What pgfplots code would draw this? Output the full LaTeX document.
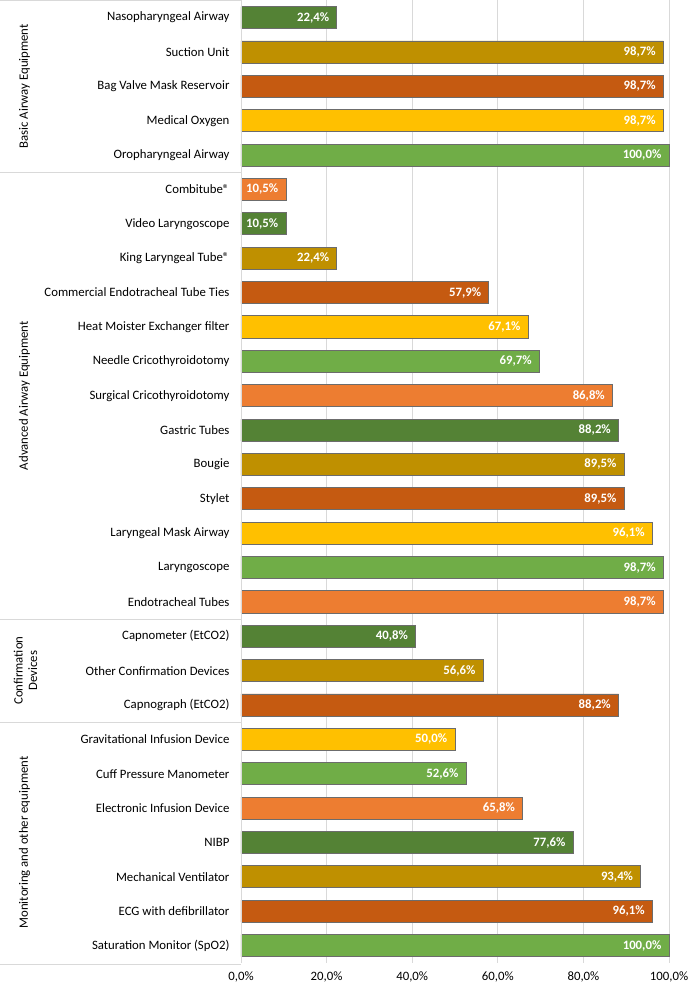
\documentclass[border=0pt]{standalone}
\usepackage{fontspec}
\setmainfont{Carlito}
\usepackage{pgfplots}
\pgfplotsset{compat=1.18}
\definecolor{cdg}{HTML}{548235}
\definecolor{cgo}{HTML}{BF9000}
\definecolor{cru}{HTML}{C55A11}
\definecolor{cye}{HTML}{FFC000}
\definecolor{cgr}{HTML}{70AD47}
\definecolor{cor}{HTML}{ED7D31}
\definecolor{gridc}{HTML}{D9D9D9}
\begin{document}
\begin{tikzpicture}[font=\fontsize{12.75bp}{14.5bp}\selectfont]
\begin{axis}[
  scale only axis, width=427bp, height=960bp,
  xbar, bar width=22bp,
  every axis plot/.append style={bar shift=0pt, draw=gray!85!black, line width=0.8bp},
  xmin=0, xmax=100, ymin=-0.5, ymax=27.5, y dir=reverse,
  enlargelimits=false,
  /pgf/number format/assume math mode=true,
  xtick={0,20,40,60,80,100},
  xticklabel={\pgfmathprintnumber[fixed,fixed zerofill,precision=1,use comma]{\tick}\%},
  xticklabel style={yshift=-5bp},
  xmajorgrids, grid style={draw=gridc, line width=0.8bp},
  major tick length=0pt,
  axis line style={draw=none},
  ytick={0,...,27},
  yticklabels={Nasopharyngeal Airway, Suction Unit, Bag Valve Mask Reservoir, Medical Oxygen, Oropharyngeal Airway,
    Combitube®, Video Laryngoscope, King Laryngeal Tube®, Commercial Endotracheal Tube Ties,
    Heat Moister Exchanger filter, Needle Cricothyroidotomy, Surgical Cricothyroidotomy, Gastric Tubes\ , Bougie, Stylet,
    Laryngeal Mask Airway, Laryngoscope, Endotracheal Tubes, Capnometer (EtCO2), Other Confirmation Devices\ , Capnograph (EtCO2),
    Gravitational Infusion Device, Cuff Pressure Manometer, Electronic Infusion Device, NIBP, Mechanical Ventilator,
    ECG with defibrillator, Saturation Monitor (SpO2)},
  yticklabel style={xshift=-8bp},
  nodes near coords={\pgfmathprintnumber[fixed,fixed zerofill,precision=1,use comma]{\pgfplotspointmeta}\%},
  point meta=explicit,
  every node near coord/.append style={anchor=east, xshift=-4bp, text=white, font=\fontsize{12.75bp}{14.5bp}\selectfont\bfseries},
  clip=false,
]
\addplot[fill=cdg] coordinates {(22.4,0) [22.4] (10.5,6) [10.5] (88.2,12) [88.2] (40.8,18) [40.8] (77.6,24) [77.6]};
\addplot[fill=cgo] coordinates {(98.7,1) [98.7] (22.4,7) [22.4] (89.5,13) [89.5] (56.6,19) [56.6] (93.4,25) [93.4]};
\addplot[fill=cru] coordinates {(98.7,2) [98.7] (57.9,8) [57.9] (89.5,14) [89.5] (88.2,20) [88.2] (96.1,26) [96.1]};
\addplot[fill=cye] coordinates {(98.7,3) [98.7] (67.1,9) [67.1] (96.1,15) [96.1] (50.0,21) [50.0]};
\addplot[fill=cgr] coordinates {(100.0,4) [100.0] (69.7,10) [69.7] (98.7,16) [98.7] (52.6,22) [52.6] (100.0,27) [100.0]};
\addplot[fill=cor] coordinates {(10.5,5) [10.5] (86.8,11) [86.8] (98.7,17) [98.7] (65.8,23) [65.8]};
\coordinate (g0) at (axis cs:0,-0.5);
\coordinate (g1) at (axis cs:0,4.5);
\coordinate (g2) at (axis cs:0,17.5);
\coordinate (g3) at (axis cs:0,20.5);
\coordinate (g4) at (axis cs:0,27.5);
\coordinate (l1) at (axis cs:0,2);
\coordinate (l2) at (axis cs:0,11);
\coordinate (l3) at (axis cs:0,19);
\coordinate (l4) at (axis cs:0,24);
\end{axis}
\draw[gridc, line width=0.8bp] (g0) -- (g4);
\draw[gridc, line width=0.8bp] (g0) -- ++(-240bp,0);
\draw[gridc, line width=0.8bp] (g1) -- ++(-240bp,0);
\draw[gridc, line width=0.8bp] (g2) -- ++(-240bp,0);
\draw[gridc, line width=0.8bp] (g3) -- ++(-240bp,0);
\draw[gridc, line width=0.8bp] (g4) ++(0,-1.5bp) -- ++(-240bp,0);
\path (l1) ++(-216bp,0) node[rotate=90] {Basic Airway Equipment};
\path (l2) ++(-216bp,0) node[rotate=90] {Advanced Airway Equipment};
\path (l3) ++(-215bp,0) node[rotate=90, align=center] {Confirmation\\Devices};
\path (l4) ++(-216bp,0) node[rotate=90] {Monitoring and other equipment};
\end{tikzpicture}
\end{document}
